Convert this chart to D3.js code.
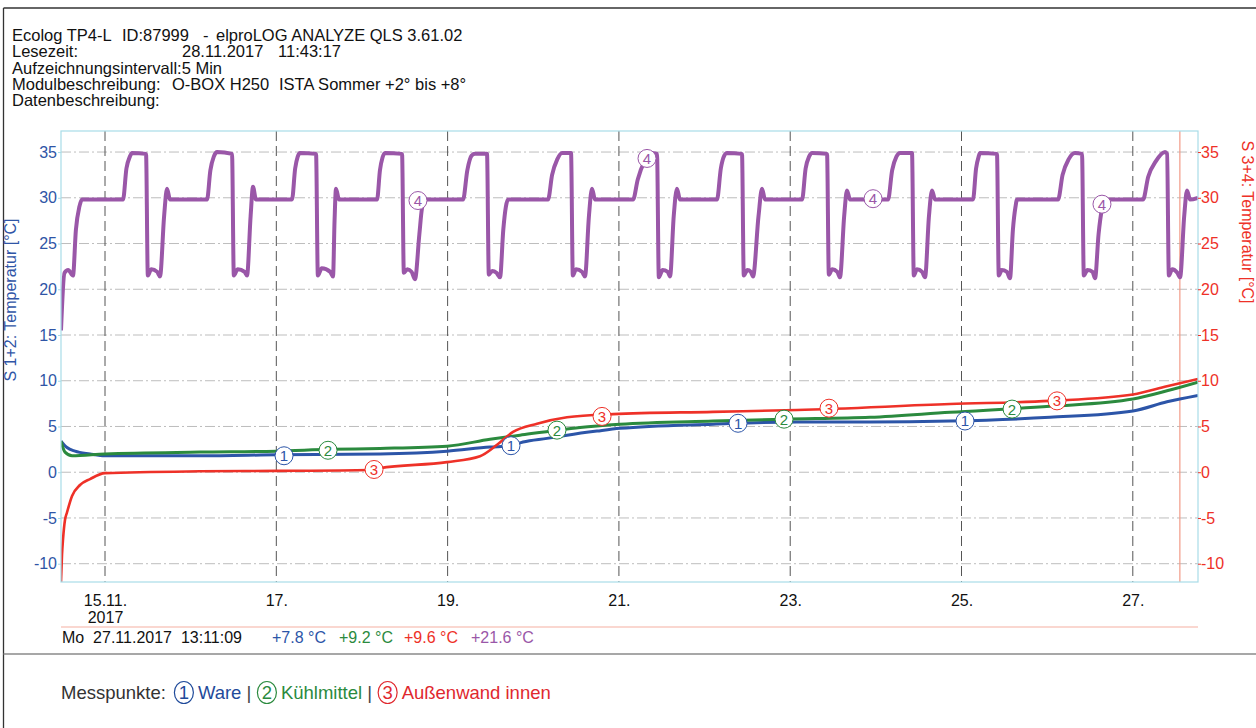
<!DOCTYPE html>
<html>
<head>
<meta charset="utf-8">
<script src="https://cdn.jsdelivr.net/npm/d3@7/dist/d3.min.js"></script>
<style>
  body { margin: 0; background: #fff; }
  svg text { font-family: "Liberation Sans", Arial, sans-serif; white-space: pre; }
</style>
</head>
<body>
<script>
// values: [day of Nov 2017 (decimal), temperature °C]
var ware = [[14.486,3.4],[14.556,2.7],[14.650,2.3],[14.825,2.0],[15.0,1.8],[16.109,1.8],[17.0,1.9],[18.211,2.0],
  [18.993,2.3],[19.495,2.75],[19.740,2.9],[19.880,3.3],[20.161,3.7],[20.394,4.05],[20.744,4.5],[21.013,4.8],
  [22.099,5.25],[23.079,5.5],[23.932,5.5],[24.866,5.6],[26.033,6.0],[27.002,6.7],[27.399,7.7],[27.761,8.4]];

var kuehlmittel = [[14.486,3.4],[14.533,2.2],[14.615,1.8],[15.0,2.0],[16.109,2.2],[17.0,2.3],[17.627,2.5],[18.211,2.6],
  [18.993,2.85],[19.495,3.6],[19.845,4.05],[20.277,4.6],[20.546,4.9],[21.013,5.25],[22.099,5.6],[22.928,5.8],
  [23.932,6.0],[24.866,6.55],[26.033,7.2],[27.002,8.0],[27.399,8.9],[27.761,9.85]];

var aussenwand = [[14.486,-12],[14.498,-9],[14.510,-7.3],[14.533,-5.2],[14.556,-4.4],[14.615,-2.6],[14.708,-1.4],
  [14.825,-0.75],[15.0,-0.1],[16.109,0.1],[17.0,0.15],[18.094,0.25],[18.211,0.45],[18.993,1.1],[19.378,1.75],
  [19.577,3.0],[19.764,4.4],[20.044,5.3],[20.394,6.0],[20.931,6.35],[22.099,6.6],[23.079,6.8],[24.866,7.45],
  [26.033,7.8],[27.002,8.5],[27.399,9.4],[27.761,10.2]];

var sensor4 = [
  [14.486,15.5],[14.527,21.8],[14.57,22.1],[14.626,21.5],[14.66,26.5],[14.70,29.0],[14.731,29.8],[15.21,29.8],[15.25,33.2],[15.29,34.5],[15.315,34.9],[15.479,34.8],
  [15.500,21.5],[15.54,22.2],[15.61,21.9],[15.642,21.4],[15.69,28.0],[15.724,31.0],[15.759,29.8],[16.191,29.8],[16.23,33.0],[16.27,34.5],[16.308,35.0],[16.483,34.8],
  [16.504,21.5],[16.55,22.2],[16.63,21.9],[16.658,21.5],[16.70,28.0],[16.728,31.2],[16.763,29.8],[17.183,29.8],[17.22,33.2],[17.25,34.5],[17.277,34.9],[17.464,34.8],
  [17.485,21.5],[17.53,22.3],[17.63,21.9],[17.662,21.4],[17.68,27.5],[17.697,31.0],[17.732,29.8],[18.176,29.8],[18.21,33.0],[18.24,34.4],[18.269,34.9],[18.468,34.8],
  [18.489,21.8],[18.53,22.2],[18.58,21.9],[18.619,21.1],[18.67,26.0],[18.70,28.8],[18.736,29.8],[19.180,29.8],[19.23,33.0],[19.28,34.6],[19.320,34.8],[19.460,34.8],
  [19.481,21.6],[19.52,22.0],[19.57,21.8],[19.612,21.3],[19.65,26.5],[19.68,29.0],[19.705,29.8],[20.172,29.8],[20.22,32.5],[20.28,34.2],[20.336,34.9],[20.441,34.9],
  [20.462,21.5],[20.50,22.2],[20.57,21.9],[20.604,21.4],[20.65,28.0],[20.686,31.0],[20.721,29.8],[21.165,29.8],[21.22,32.0],[21.30,34.0],[21.375,34.9],[21.445,34.8],
  [21.466,21.3],[21.51,22.1],[21.57,21.9],[21.597,21.4],[21.64,28.0],[21.678,31.0],[21.713,29.8],[22.145,29.8],[22.19,33.2],[22.23,34.6],[22.262,34.9],[22.437,34.8],
  [22.458,21.5],[22.50,22.1],[22.54,21.9],[22.566,21.4],[22.63,28.0],[22.671,31.0],[22.706,29.8],[23.138,29.8],[23.18,33.2],[23.22,34.5],[23.255,34.9],[23.430,34.8],
  [23.451,21.6],[23.49,22.2],[23.55,21.9],[23.581,21.3],[23.63,28.0],[23.663,30.8],[23.698,29.8],[24.142,29.8],[24.19,33.0],[24.24,34.5],[24.282,34.9],[24.422,34.9],
  [24.443,21.5],[24.48,22.2],[24.54,21.9],[24.574,21.3],[24.62,28.0],[24.656,30.8],[24.691,29.8],[25.134,29.8],[25.17,33.2],[25.20,34.5],[25.216,34.9],[25.414,34.8],
  [25.435,21.5],[25.47,22.1],[25.53,21.9],[25.566,21.2],[25.60,26.5],[25.63,29.0],[25.648,29.8],[26.127,29.8],[26.18,32.5],[26.25,34.2],[26.325,34.9],[26.407,34.8],
  [26.428,21.5],[26.47,22.1],[26.53,21.9],[26.559,21.2],[26.60,26.0],[26.64,28.8],[26.676,29.8],[27.119,29.8],[27.18,32.3],[27.27,34.0],[27.376,35.0],[27.400,34.8],
  [27.421,21.5],[27.46,22.2],[27.52,21.8],[27.552,21.3],[27.60,28.0],[27.633,30.8],[27.668,29.8],[27.761,30.0]];

// numbered markers on the curves
var marks1 = [[17.090,1.8],[19.740,2.9],[22.391,5.35],[25.041,5.6]];
var marks2 = [[17.604,2.4],[20.277,4.6],[22.928,5.8],[25.590,6.9]];
var marks3 = [[18.141,0.3],[20.803,6.1],[23.453,7.0],[26.115,7.8]];
var marks4 = [[18.654,29.7],[21.328,34.3],[23.967,29.9],[26.640,29.3]];

var yTicks = [-10,-5,0,5,10,15,20,25,30,35];
var xTickDays = [15,17,19,21,23,25,27];
var cursorValues = ["+7.8 °C","+9.2 °C","+9.6 °C","+21.6 °C"];

var cBlue = "#2c55a8", cGreen = "#2b8a3e", cRed = "#ee3128", cPurple = "#9a57a8";

function dayToDate(d) { return new Date(Date.UTC(2017,10,1) + (d-1)*864e5); }

var W = 1256, H = 728;
var pl = 61, pr = 1198, pt = 131, pb = 582;

var svg = d3.select("body").append("svg").attr("width",W).attr("height",H);

// page frame
svg.append("line").attr("x1",3.5).attr("y1",8).attr("x2",W).attr("y2",8).attr("stroke","#333").attr("stroke-width",1.3);
svg.append("line").attr("x1",3.5).attr("y1",8).attr("x2",3.5).attr("y2",H).attr("stroke","#333").attr("stroke-width",1.3);
svg.append("line").attr("x1",3.5).attr("y1",654).attr("x2",W).attr("y2",654).attr("stroke","#8a8a8a").attr("stroke-width",1.5);

// header
var hdr = svg.append("g").style("font-size","16.5px").attr("fill","#111");
hdr.append("text").attr("x",12).attr("y",41).text("Ecolog TP4-L");
hdr.append("text").attr("x",122).attr("y",41).text("ID:87999");
hdr.append("text").attr("x",203).attr("y",41).text("-");
hdr.append("text").attr("x",216).attr("y",41).text("elproLOG ANALYZE QLS 3.61.02");
hdr.append("text").attr("x",12).attr("y",57).text("Lesezeit:");
hdr.append("text").attr("x",182).attr("y",57).text("28.11.2017");
hdr.append("text").attr("x",278).attr("y",57).text("11:43:17");
hdr.append("text").attr("x",12).attr("y",74).text("Aufzeichnungsintervall:5 Min");
hdr.append("text").attr("x",12).attr("y",90).text("Modulbeschreibung:");
hdr.append("text").attr("x",172).attr("y",90).text("O-BOX H250");
hdr.append("text").attr("x",279).attr("y",90).text("ISTA Sommer +2° bis +8°");
hdr.append("text").attr("x",12).attr("y",106).text("Datenbeschreibung:");

var x = d3.scaleUtc()
  .domain([new Date(Date.UTC(2017,10,14,11,40)), new Date(Date.UTC(2017,10,27,18,16))])
  .range([pl, pr]);
var y = d3.scaleLinear().domain([-12, 37.3]).range([pb, pt]);

// horizontal grid
svg.append("g").selectAll("line").data(yTicks).enter().append("line")
  .attr("x1",pl).attr("x2",pr).attr("y1",d=>y(d)).attr("y2",d=>y(d))
  .attr("stroke","#bdbdbd").attr("stroke-dasharray","10,3,2,3");

// vertical day lines
var xTicks = xTickDays.map(dayToDate);
svg.append("g").selectAll("line").data(xTicks).enter().append("line")
  .attr("x1",d=>x(d)).attr("x2",d=>x(d)).attr("y1",pt).attr("y2",pb)
  .attr("stroke","#555").attr("stroke-dasharray","10,5");

// cursor
var cursorT = new Date(Date.UTC(2017,10,27,13,11,9));
svg.append("line").attr("x1",x(cursorT)).attr("x2",x(cursorT)).attr("y1",pt).attr("y2",pb)
  .attr("stroke","#f29a88").attr("stroke-width",1.2);

// curves
svg.append("clipPath").attr("id","clip").append("rect")
  .attr("x",pl).attr("y",pt).attr("width",pr-pl).attr("height",pb-pt);
var line = d3.line().x(d=>x(dayToDate(d[0]))).y(d=>y(d[1])).curve(d3.curveMonotoneX);
var curves = svg.append("g").attr("clip-path","url(#clip)").attr("fill","none").attr("stroke-linejoin","round");
curves.append("path").datum(sensor4).attr("d",line).attr("stroke",cPurple).attr("stroke-width",4);
curves.append("path").datum(ware).attr("d",line).attr("stroke",cBlue).attr("stroke-width",3);
curves.append("path").datum(kuehlmittel).attr("d",line).attr("stroke",cGreen).attr("stroke-width",3);
curves.append("path").datum(aussenwand).attr("d",line).attr("stroke",cRed).attr("stroke-width",2.6);

// plot frame
svg.append("rect").attr("x",pl).attr("y",pt).attr("width",pr-pl).attr("height",pb-pt)
  .attr("fill","none").attr("stroke","#a8dde8").attr("stroke-width",1.2);

// markers
function addMarks(arr, num, col) {
  var g = svg.append("g").selectAll("g").data(arr).enter().append("g")
    .attr("transform",d=>"translate(" + x(dayToDate(d[0])) + "," + y(d[1]) + ")");
  g.append("circle").attr("r",9).attr("fill","#fff").attr("stroke",col).attr("stroke-width",1);
  g.append("text").attr("text-anchor","middle").attr("dy","0.36em").style("font-size","15px")
    .attr("fill",col).text(num);
}
addMarks(marks1,"1",cBlue);
addMarks(marks2,"2",cGreen);
addMarks(marks3,"3",cRed);
addMarks(marks4,"4",cPurple);

// axes
var yl = svg.append("g").attr("transform","translate(" + pl + ",0)")
  .call(d3.axisLeft(y).tickValues(yTicks).tickSize(3).tickPadding(1).tickFormat(d => String(d)));
yl.select(".domain").remove();
yl.selectAll("line").attr("stroke","#a8dde8");
yl.selectAll("text").attr("fill","#2f55a6").style("font-size","16px").style("font-family","Liberation Sans, Arial, sans-serif");

var yr = svg.append("g").attr("transform","translate(" + pr + ",0)")
  .call(d3.axisRight(y).tickValues(yTicks).tickSize(3).tickPadding(0).tickFormat(d => String(d)));
yr.select(".domain").remove();
yr.selectAll("line").attr("stroke",cRed);
yr.selectAll("text").attr("fill",cRed).style("font-size","16px").style("font-family","Liberation Sans, Arial, sans-serif");

var xa = svg.append("g").attr("transform","translate(0," + pb + ")")
  .call(d3.axisBottom(x).tickValues(xTicks).tickSize(0).tickPadding(13)
    .tickFormat((d,i) => i === 0 ? "15.11." : d3.utcFormat("%-d.")(d)));
xa.select(".domain").remove();
xa.selectAll("text").attr("fill","#111").style("font-size","16px").style("font-family","Liberation Sans, Arial, sans-serif");
xa.select(".tick text").append("tspan").attr("x",0).attr("dy","1.05em").text("2017");

// axis titles
svg.append("text").attr("transform","translate(16,300) rotate(-90)").attr("text-anchor","middle")
  .attr("fill","#2f55a6").style("font-size","16px").text("S 1+2: Temperatur [°C]");
svg.append("text").attr("transform","translate(1242,222) rotate(90)").attr("text-anchor","middle")
  .attr("fill",cRed).style("font-size","16px").text("S 3+4: Temperatur [°C]");

// cursor readout
svg.append("line").attr("x1",pl).attr("x2",pr).attr("y1",627).attr("y2",627).attr("stroke","#f6b0a2").attr("stroke-width",1.2);
var ro = svg.append("g").style("font-size","16px");
ro.append("text").attr("x",62).attr("y",643).attr("fill","#111").text("Mo  27.11.2017  13:11:09");
var roX = [272, 339, 404, 471], roC = [cBlue, cGreen, cRed, cPurple];
cursorValues.forEach(function(v,i){
  ro.append("text").attr("x",roX[i]).attr("y",643).attr("fill",roC[i]).text(v);
});

// legend
var lg = svg.append("g").style("font-size","18.5px");
var lx = 61, ly = 699;
function lgText(t, col) {
  var el = lg.append("text").attr("x",lx).attr("y",ly).attr("fill",col).text(t);
  lx += el.node().getComputedTextLength();
}
function lgCircle(n, col) {
  var cx = lx + 18;
  lg.append("ellipse").attr("cx",cx).attr("cy",ly-6.5).attr("rx",9.5).attr("ry",11)
    .attr("fill","none").attr("stroke",col).attr("stroke-width",1.2);
  lg.append("text").attr("x",cx).attr("y",ly).attr("text-anchor","middle").attr("fill",col).text(n);
  lx = cx + 14;
}
function lgBar() {
  var bx = lx + 7.5;
  lg.append("text").attr("x",bx).attr("y",ly).attr("text-anchor","middle").attr("fill","#444").text("|");
  lx = bx;
}
lgText("Messpunkte:", "#333");
lgCircle("1", "#1f4a9a"); lgText("Ware", "#1f4a9a");
lgBar();
lgCircle("2", cGreen); lgText("Kühlmittel", cGreen);
lgBar();
lgCircle("3", "#e0282e"); lgText("Außenwand innen", "#e0282e");
</script>
</body>
</html>
